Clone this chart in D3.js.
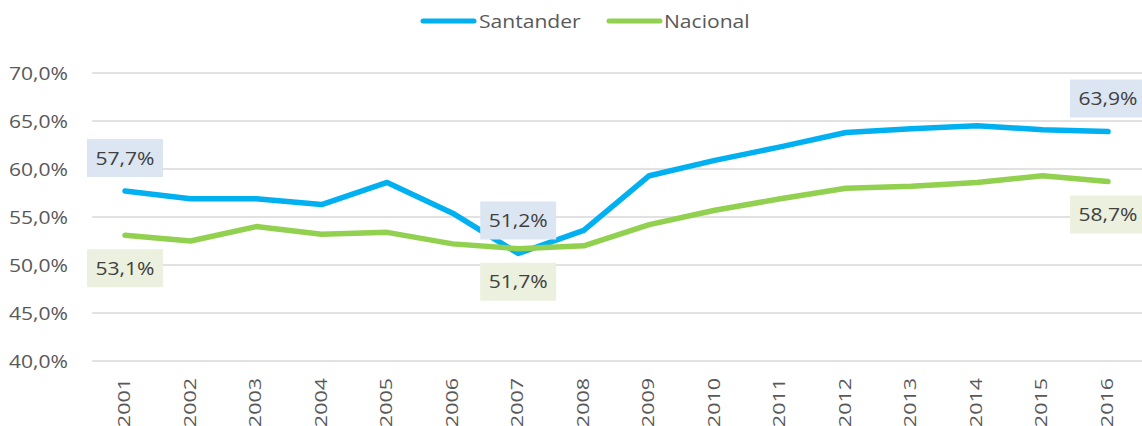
<!DOCTYPE html>
<html><head><meta charset="utf-8">
<script src="https://cdn.jsdelivr.net/npm/d3@7"></script>
<style>body{margin:0;background:#fff}svg{display:block}</style>
</head><body><svg id="c" width="1142" height="426"></svg>
<script>
const years = ["2001","2002","2003","2004","2005","2006","2007","2008","2009","2010","2011","2012","2013","2014","2015","2016"];
const santander = [57.7,56.9,56.9,56.3,58.6,55.4,51.2,53.6,59.3,60.9,62.3,63.8,64.2,64.5,64.1,63.9];
const nacional = [53.1,52.5,54.0,53.2,53.4,52.2,51.7,52.0,54.2,55.7,56.9,58.0,58.2,58.6,59.3,58.7];
const yTicks = [40,45,50,55,60,65,70];
const seriesNames = ["Santander","Nacional"];
const colors = ["#00b0f0","#92d050"];
const labelBg = ["#dce6f2","#ebf1de"];
const labelIdx = [0,6,15];

const svg = d3.select("#c");
const x = d3.scalePoint().domain(years).range([125,1108]);
const y = d3.scaleLinear().domain([40,70]).range([361,73]);
const fmt = v => v.toFixed(1).replace(".", ",") + "%";
const SX = 1.14;

// gridlines
svg.append("g").selectAll("line").data(yTicks).join("line")
  .attr("x1",92).attr("x2",1142).attr("y1",d=>y(d)).attr("y2",d=>y(d))
  .attr("stroke","#d9d9d9").attr("stroke-width",1.5);

// y labels
svg.append("g").selectAll("text").data(yTicks).join("text")
  .attr("transform",d=>`translate(68,${y(d)+6.5}) scale(${SX},1)`).attr("text-anchor","end")
  .attr("font-family","Open Sans").attr("font-size",18.5).attr("fill","#595959")
  .text(d=>fmt(d));

// x labels
svg.append("g").selectAll("text").data(years).join("text")
  .attr("transform",d=>`translate(${x(d)+5},378) rotate(-90) scale(1,0.72)`)
  .attr("text-anchor","end")
  .attr("font-family","Open Sans").attr("font-size",21.5).attr("fill","#595959")
  .text(d=>d);

// lines
const data = [santander, nacional];
const line = d3.line().x((d,i)=>x(years[i])).y(d=>y(d));
data.forEach((s,k)=>{
  svg.append("path").datum(s).attr("d",line).attr("fill","none")
    .attr("stroke",colors[k]).attr("stroke-width",5.5)
    .attr("stroke-linejoin","round").attr("stroke-linecap","round");
});

// data labels
data.forEach((s,k)=>{
  labelIdx.forEach(i=>{
    const cx = x(years[i]), cy = y(s[i]) + (k===0 ? -33 : 33);
    const g = svg.append("g");
    g.append("rect").attr("x",cx-38).attr("y",cy-19).attr("width",76).attr("height",38)
      .attr("fill",labelBg[k]);
    g.append("text").attr("transform",`translate(${cx},${cy+6.5}) scale(${SX},1)`).attr("text-anchor","middle")
      .attr("font-family","Open Sans").attr("font-size",18.5).attr("fill","#404040")
      .text(fmt(s[i]));
  });
});

// legend
const leg = [{x:420,tx:479},{x:606,tx:664}];
seriesNames.forEach((n,k)=>{
  svg.append("line").attr("x1",leg[k].x+3).attr("x2",leg[k].x+54).attr("y1",21).attr("y2",21)
    .attr("stroke",colors[k]).attr("stroke-width",5).attr("stroke-linecap","round");
  svg.append("text").attr("transform",`translate(${leg[k].tx},28) scale(${SX},1)`)
    .attr("font-family","Open Sans").attr("font-size",18.5).attr("fill","#595959")
    .text(n);
});
</script></body></html>
